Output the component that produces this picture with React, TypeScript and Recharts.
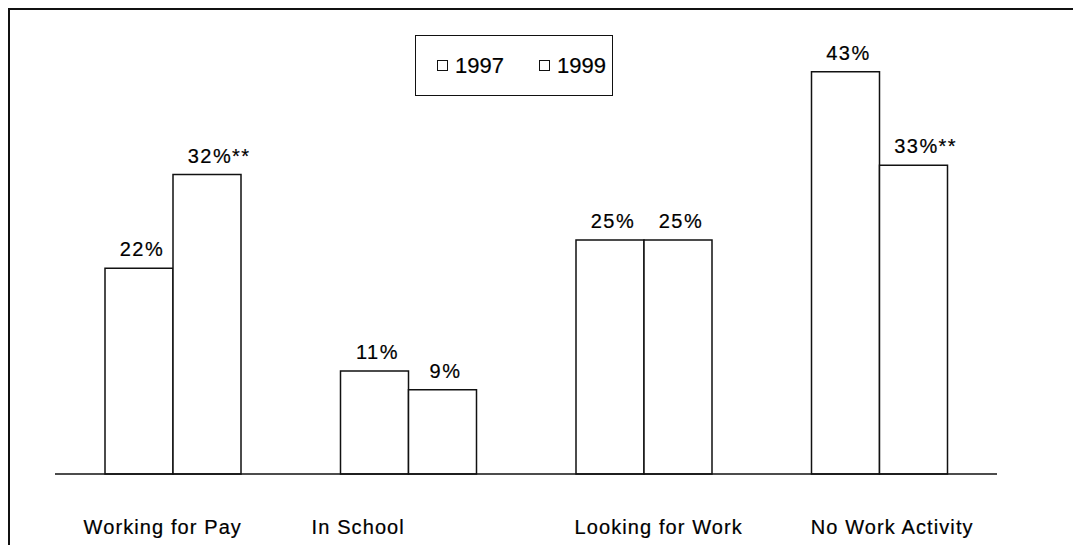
import React from "react";
import { BarChart, Bar, XAxis, YAxis, Legend, LabelList } from "recharts";

const categories = ["Working for Pay", "In School", "Looking for Work", "No Work Activity"];
const values1997 = [22, 11, 25, 43];
const values1999 = [32, 9, 25, 33];
const significant1999 = [true, false, false, true];
const seriesNames = ["1997", "1999"];
const labelShift = [-10, -50, 15, 13];

const data = categories.map((c, i) => ({
  name: c,
  y1997: values1997[i],
  y1999: values1999[i],
  sig: significant1999[i],
}));

const FONT = "'Liberation Sans', Arial, Helvetica, sans-serif";

const CategoryTick = (props: any) => {
  const { x, y, payload, index } = props;
  return (
    <text
      x={x + (labelShift[index] || 0)}
      y={y + 60}
      textAnchor="middle"
      fontFamily={FONT}
      fontSize={20}
      letterSpacing={1.1}
      fill="#000"
      stroke="#000"
      strokeWidth={0.2}
    >
      {payload.value}
    </text>
  );
};

const makeValueLabel = (withStars: boolean) => (props: any) => {
  const { x, y, width, value, index } = props;
  const cx = x + width / 2 + 3;
  const stars = withStars && significant1999[index];
  return (
    <g>
      <text
        x={cx}
        y={y - 12}
        textAnchor="middle"
        fontFamily={FONT}
        fontSize={20}
        letterSpacing={1.5}
        fill="#000"
        stroke="#000"
        strokeWidth={0.2}
      >
        {`${value}%`}
      </text>
      {stars ? (
        <text
          x={cx + 22}
          y={y - 12}
          textAnchor="start"
          fontFamily={FONT}
          fontSize={20}
          letterSpacing={1.5}
          fill="#000"
          stroke="#000"
          strokeWidth={0.2}
        >
          **
        </text>
      ) : null}
    </g>
  );
};

const LegendBox = () => (
  <div
    style={{
      width: 198,
      height: 61,
      boxSizing: "border-box",
      border: "1.5px solid #111",
      display: "flex",
      alignItems: "center",
      paddingLeft: 21,
      fontFamily: FONT,
      fontSize: 22,
      color: "#000",
      WebkitTextStroke: "0.2px #000",
      background: "#fff",
    }}
  >
    {seriesNames.map((n, i) => (
      <div
        key={n}
        style={{ display: "flex", alignItems: "center", marginRight: i === 0 ? 35 : 0 }}
      >
        <div
          style={{
            width: 11,
            height: 11,
            boxSizing: "border-box",
            border: "1.5px solid #111",
            marginRight: 7,
          }}
        />
        <span>{n}</span>
      </div>
    ))}
  </div>
);

export default function App() {
  return (
    <div
      style={{
        position: "fixed",
        left: 8,
        top: 8,
        width: 1063,
        height: 535,
        borderTop: "2px solid #111",
        borderLeft: "2px solid #111",
        background: "#fff",
      }}
    >
      <BarChart
        width={1063}
        height={535}
        data={data}
        margin={{ top: 43, right: 76, bottom: 11, left: 45 }}
        barGap={0}
      >
        <XAxis
          dataKey="name"
          height={60}
          tickLine={false}
          tickSize={0}
          tickMargin={0}
          axisLine={{ stroke: "#111", strokeWidth: 1.5 }}
          tick={<CategoryTick />}
          interval={0}
        />
        <YAxis hide domain={[0, 45]} />
        <Legend
          layout="horizontal"
          verticalAlign="middle"
          align="center"
          content={<LegendBox />}
          wrapperStyle={{ position: "absolute", left: 405, top: 25, width: 198, height: 61 }}
        />
        <Bar
          dataKey="y1997"
          name="1997"
          barSize={68}
          fill="#fff"
          stroke="#111"
          strokeWidth={1.5}
          isAnimationActive={false}
        >
          <LabelList dataKey="y1997" content={makeValueLabel(false)} />
        </Bar>
        <Bar
          dataKey="y1999"
          name="1999"
          barSize={68}
          fill="#fff"
          stroke="#111"
          strokeWidth={1.5}
          isAnimationActive={false}
        >
          <LabelList dataKey="y1999" content={makeValueLabel(true)} />
        </Bar>
      </BarChart>
    </div>
  );
}
